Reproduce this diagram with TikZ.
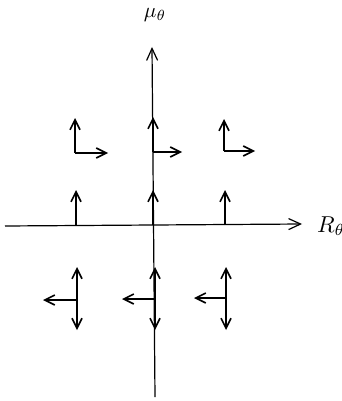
\documentclass[tikz,border=0pt]{standalone}
\usepackage{graphicx}
\usetikzlibrary{arrows.meta}
\begin{document}
\begin{tikzpicture}[x=1pt,y=-1pt,
  vec/.style={line width=1.6pt,-{Straight Barb[length=10pt,width=10pt,line width=1.6pt]}},
  axis/.style={line width=1.2pt},
  lbl/.style={inner sep=0pt}]
\useasboundingbox (0,0) rectangle (341,401);
% axes
\coordinate (xl) at (5,226);
\coordinate (xr) at (302,224);
\coordinate (yb) at (155,397);
\coordinate (yt) at (152,47);
\draw[axis,-{Straight Barb[length=12pt,width=11pt,line width=1.2pt]}] (xl) -- (xr);
\draw[axis,-{Straight Barb[length=12pt,width=11pt,line width=1.2pt]}] (yb) -- (yt);
\node[lbl,anchor=west] (Rl) at (317,226) {\scalebox{2.3}{$R_\theta$}};
\node[lbl] (Ml) at (155,15) {\scalebox{2.1}{$\mu_\theta$}};
% upper row
\foreach \n/\cx/\cy/\ut/\rt in {a/75/153/118/108, b/153/152/117/182, c/224/151/119/255}{
  \coordinate (\n) at (\cx,\cy);
  \coordinate (\n u) at (\cx,\ut);
  \coordinate (\n r) at (\rt,\cy);
  \draw[vec] (\n) -- (\n u);
  \draw[vec] (\n) -- (\n r);
}
% on axis
\foreach \n/\cx in {d/76, e/153, f/225}{
  \coordinate (\n) at (\cx,225);
  \coordinate (\n u) at (\cx,190);
  \draw[vec] (\n) -- (\n u);
}
% lower row
\foreach \n/\cx/\cy/\lt in {g/77/300/43, h/155/299/122, k/226/298/194}{
  \coordinate (\n) at (\cx,\cy);
  \coordinate (\n u) at (\cx,267);
  \coordinate (\n d) at (\cx,330);
  \coordinate (\n l) at (\lt,\cy);
  \draw[vec] (\n) -- (\n u);
  \draw[vec] (\n) -- (\n d);
  \draw[vec] (\n) -- (\n l);
}
\end{tikzpicture}
\end{document}
